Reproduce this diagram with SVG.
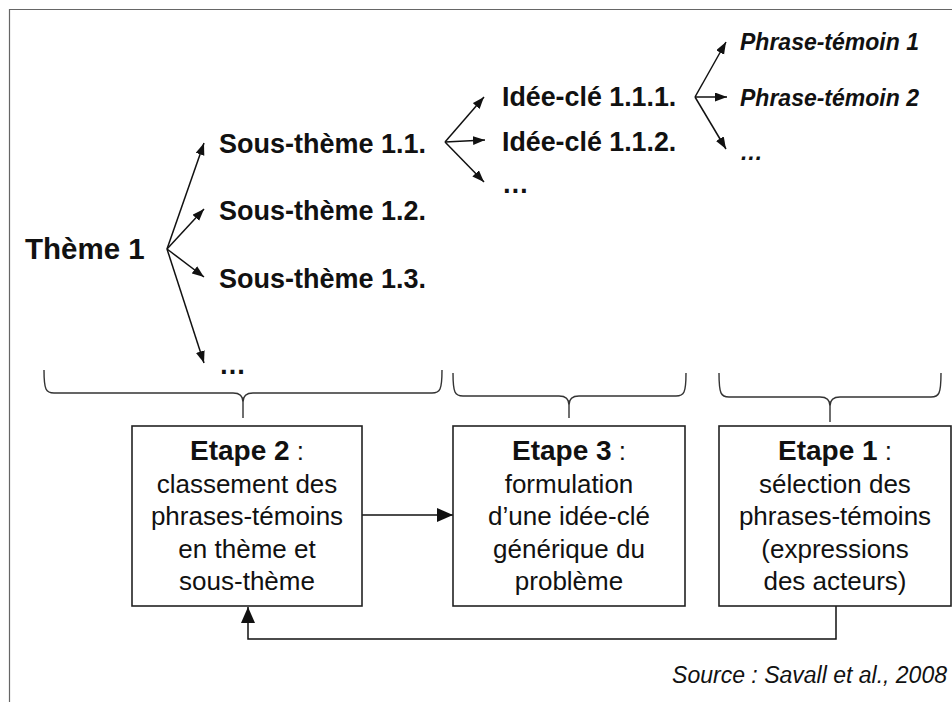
<svg xmlns="http://www.w3.org/2000/svg" width="952" height="702" viewBox="0 0 952 702">
<defs>
<style>
text{font-family:"Liberation Sans",Arial,Helvetica,sans-serif;fill:#111}
.b{font-weight:bold}
.bi{font-weight:bold;font-style:italic}
.box{fill:#fff;stroke:#222;stroke-width:1.6}
.ln{fill:none;stroke:#111;stroke-width:1.5}
.br{fill:none;stroke:#333;stroke-width:1.4}
.bt{font-size:26px;text-anchor:middle}
.eb{font-weight:bold;font-size:28px}
</style>
<marker id="ah" markerUnits="userSpaceOnUse" markerWidth="13" markerHeight="10" refX="12" refY="4.5" orient="auto">
<path d="M0,0 L12,4.5 L0,9 z" fill="#111"/>
</marker>
<marker id="ahL" markerUnits="userSpaceOnUse" markerWidth="18" markerHeight="16" refX="16" refY="7" orient="auto">
<path d="M0,0 L16,7 L0,14 z" fill="#111"/>
</marker>
</defs>
<rect width="952" height="702" fill="#fff"/>
<path d="M9.5,702 L9.5,9.5 L952,9.5" fill="none" stroke="#666" stroke-width="1.2"/>

<g id="connectors">
<line class="ln" x1="167" y1="249" x2="204" y2="143" marker-end="url(#ah)"/>
<line class="ln" x1="167" y1="249" x2="204" y2="209" marker-end="url(#ah)"/>
<line class="ln" x1="167" y1="249" x2="204" y2="277" marker-end="url(#ah)"/>
<line class="ln" x1="167" y1="249" x2="204" y2="363" marker-end="url(#ah)"/>
<line class="ln" x1="445" y1="142" x2="484" y2="97" marker-end="url(#ah)"/>
<line class="ln" x1="445" y1="142" x2="485" y2="140" marker-end="url(#ah)"/>
<line class="ln" x1="445" y1="142" x2="484" y2="182" marker-end="url(#ah)"/>
<line class="ln" x1="695" y1="97" x2="726" y2="42" marker-end="url(#ah)"/>
<line class="ln" x1="695" y1="97" x2="727" y2="97" marker-end="url(#ah)"/>
<line class="ln" x1="695" y1="97" x2="726" y2="149" marker-end="url(#ah)"/>
<line class="ln" x1="362" y1="515" x2="453" y2="515" marker-end="url(#ahL)"/>
<polyline class="ln" points="836,606 836,639 248,639 248,607" marker-end="url(#ahL)"/>
<path class="br" d="M44,370 C44,390 46,393 54,393 L233,393 C240,393 243,396 243,402 L243,418 M243,402 C243,396 246,393 253,393 L432,393 C440,393 442,390 442,370"/>
<path class="br" d="M453,373 C453,393 455,396 463,396 L559,396 C566,396 569,399 569,405 L569,418 M569,405 C569,399 572,396 579,396 L676,396 C684,396 686,393 686,373"/>
<path class="br" d="M719,373 C719,394 721,397 729,397 L820,397 C827,397 830,400 830,406 L830,422 M830,406 C830,400 833,397 840,397 L931,397 C939,397 941,394 941,373"/>
</g>

<g id="theme1"><text class="b" x="25" y="259" font-size="29.5">Thème 1</text></g>
<g id="st11"><text class="b" x="219" y="153" font-size="27">Sous-thème 1.1.</text></g>
<g id="st12"><text class="b" x="219" y="220" font-size="27">Sous-thème 1.2.</text></g>
<g id="st13"><text class="b" x="219" y="288" font-size="27">Sous-thème 1.3.</text></g>
<g id="st_more"><text class="b" x="219" y="374" font-size="27">…</text></g>
<g id="ic111"><text class="b" x="502" y="106" font-size="26.8">Idée-clé 1.1.1.</text></g>
<g id="ic112"><text class="b" x="502" y="151" font-size="26.8">Idée-clé 1.1.2.</text></g>
<g id="ic_more"><text class="b" x="502" y="193" font-size="26.8">…</text></g>
<g id="pt1"><text class="bi" x="740" y="50" font-size="23">Phrase-témoin 1</text></g>
<g id="pt2"><text class="bi" x="740" y="106" font-size="23">Phrase-témoin 2</text></g>
<g id="pt_more"><text class="bi" x="740" y="160" font-size="23">…</text></g>

<g id="etape2">
<rect class="box" x="132" y="426" width="230" height="180"/>
<text class="bt" x="247" y="460"><tspan class="eb">Etape 2</tspan> :</text>
<text class="bt" x="247" y="492.5">classement des</text>
<text class="bt" x="247" y="525">phrases-témoins</text>
<text class="bt" x="247" y="557.5">en thème et</text>
<text class="bt" x="247" y="590">sous-thème</text>
</g>
<g id="etape3">
<rect class="box" x="453" y="426" width="232" height="180"/>
<text class="bt" x="569" y="460"><tspan class="eb">Etape 3</tspan> :</text>
<text class="bt" x="569" y="492.5">formulation</text>
<text class="bt" x="569" y="525">d’une idée-clé</text>
<text class="bt" x="569" y="557.5">générique du</text>
<text class="bt" x="569" y="590">problème</text>
</g>
<g id="etape1">
<rect class="box" x="719" y="426" width="232" height="180"/>
<text class="bt" x="835" y="460"><tspan class="eb">Etape 1</tspan> :</text>
<text class="bt" x="835" y="492.5">sélection des</text>
<text class="bt" x="835" y="525">phrases-témoins</text>
<text class="bt" x="835" y="557.5">(expressions</text>
<text class="bt" x="835" y="590">des acteurs)</text>
</g>
<g id="source"><text x="947" y="683" font-size="23" font-style="italic" text-anchor="end">Source : Savall et al., 2008</text></g>
</svg>
